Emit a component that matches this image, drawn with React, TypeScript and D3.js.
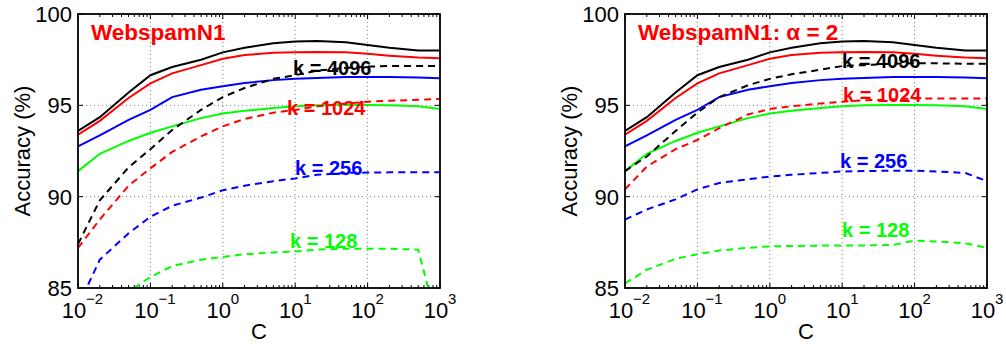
import React from "react";
import * as d3 from "d3";

const cValues = [0.01, 0.02, 0.05, 0.1, 0.2, 0.5, 1, 2, 5, 10, 20, 50, 100, 200, 500, 1000];
const xTickExps = [-2, -1, 0, 1, 2, 3];
const yTicks = [85, 90, 95, 100];

// solid lines (same in both panels)
const solid4096 = [93.6, 94.35, 95.7, 96.65, 97.1, 97.5, 97.9, 98.15, 98.4, 98.5, 98.52, 98.45, 98.3, 98.15, 98.0, 98.0];
const solid1024 = [93.4, 94.15, 95.4, 96.2, 96.75, 97.2, 97.55, 97.75, 97.88, 97.9, 97.92, 97.9, 97.82, 97.72, 97.62, 97.58];
const solid256 = [92.75, 93.35, 94.2, 94.75, 95.45, 95.85, 96.05, 96.22, 96.38, 96.45, 96.5, 96.55, 96.55, 96.55, 96.52, 96.48];
const solid128 = [91.4, 92.35, 93.05, 93.5, 93.85, 94.3, 94.55, 94.7, 94.85, 94.95, 95.0, 95.02, 95.02, 95.0, 94.95, 94.8];

// dashed lines, left panel
const left4096 = [87.4, 89.8, 91.6, 92.6, 93.65, 94.75, 95.45, 95.95, 96.45, 96.65, 96.9, 97.05, 97.12, 97.15, 97.15, 97.15];
const left1024 = [87.2, 88.75, 90.6, 91.55, 92.45, 93.3, 93.85, 94.25, 94.6, 94.75, 94.95, 95.1, 95.2, 95.25, 95.3, 95.35];
const left256 = [84.0, 86.55, 88.0, 88.9, 89.5, 89.95, 90.35, 90.6, 90.85, 91.0, 91.2, 91.3, 91.32, 91.33, 91.33, 91.33];
const left128 = [82.5, 83.6, 84.8, 85.6, 86.2, 86.55, 86.7, 86.85, 86.95, 87.0, 87.1, 87.15, 87.15, 87.15, 87.1, 82.5];

// dashed lines, right panel (alpha = 2)
const right4096 = [91.4, 92.2, 93.6, 94.6, 95.45, 96.1, 96.45, 96.7, 96.95, 97.15, 97.2, 97.28, 97.3, 97.3, 97.28, 97.27];
const right1024 = [90.4, 91.65, 92.6, 93.1, 93.75, 94.5, 94.8, 94.95, 95.1, 95.2, 95.27, 95.33, 95.38, 95.38, 95.38, 95.37];
const right256 = [88.75, 89.3, 89.85, 90.4, 90.75, 90.95, 91.1, 91.2, 91.3, 91.38, 91.4, 91.42, 91.42, 91.38, 91.3, 90.85];
const right128 = [85.25, 86.0, 86.6, 86.85, 87.05, 87.2, 87.28, 87.3, 87.32, 87.33, 87.33, 87.35, 87.6, 87.55, 87.45, 87.2];

const kLabels = ["k = 4096", "k = 1024", "k = 256", "k = 128"];
const colors = ["#000000", "#ff0000", "#0000ff", "#00ff00"];

const panels = [
  {
    id: "p1",
    title: "WebspamN1",
    left: 78, right: 440, top: 14, bottom: 288,
    solid: [solid4096, solid1024, solid256, solid128],
    dashed: [left4096, left1024, left256, left128],
    labelPos: [[293, 75], [287, 115], [295, 175], [290, 248]],
  },
  {
    id: "p2",
    title: "WebspamN1: α = 2",
    left: 625, right: 987, top: 14, bottom: 288,
    solid: [solid4096, solid1024, solid256, solid128],
    dashed: [right4096, right1024, right256, right128],
    labelPos: [[842, 68], [843, 102], [840, 168], [842, 237]],
  },
];

const FONT = "'Liberation Sans', Arial, Helvetica, sans-serif";

function Panel({ p }: { p: any }) {
  const x = d3.scaleLog().domain([0.01, 1000]).range([p.left, p.right]);
  const y = d3.scaleLinear().domain([85, 100]).range([p.bottom, p.top]);
  const line = d3
    .line<number>()
    .x((_, i) => x(cValues[i]))
    .y((v) => y(v));
  const minor: number[] = [];
  for (let e = -2; e < 3; e++) for (let m = 2; m <= 9; m++) minor.push(m * Math.pow(10, e));
  const clipId = "clip-" + p.id;
  return (
    <g>
      <defs>
        <clipPath id={clipId}>
          <rect x={p.left} y={p.top} width={p.right - p.left} height={p.bottom - p.top} />
        </clipPath>
      </defs>
      {/* grid */}
      {xTickExps.slice(1, -1).map((e) => (
        <line key={"gx" + e} x1={x(Math.pow(10, e))} x2={x(Math.pow(10, e))} y1={p.top} y2={p.bottom}
          stroke="#808080" strokeWidth={1} strokeDasharray="1 3" />
      ))}
      {yTicks.slice(1, -1).map((t) => (
        <line key={"gy" + t} x1={p.left} x2={p.right} y1={y(t)} y2={y(t)}
          stroke="#808080" strokeWidth={1} strokeDasharray="1 3" />
      ))}
      {/* ticks */}
      {minor.map((m, i) => (
        <g key={"mn" + i}>
          <line x1={x(m)} x2={x(m)} y1={p.bottom} y2={p.bottom - 3} stroke="#000" strokeWidth={1} />
          <line x1={x(m)} x2={x(m)} y1={p.top} y2={p.top + 3} stroke="#000" strokeWidth={1} />
        </g>
      ))}
      {xTickExps.map((e) => (
        <g key={"mj" + e}>
          <line x1={x(Math.pow(10, e))} x2={x(Math.pow(10, e))} y1={p.bottom} y2={p.bottom - 5} stroke="#000" strokeWidth={1} />
          <line x1={x(Math.pow(10, e))} x2={x(Math.pow(10, e))} y1={p.top} y2={p.top + 5} stroke="#000" strokeWidth={1} />
        </g>
      ))}
      {yTicks.map((t) => (
        <g key={"yt" + t}>
          <line x1={p.left} x2={p.left + 5} y1={y(t)} y2={y(t)} stroke="#000" strokeWidth={1} />
          <line x1={p.right} x2={p.right - 5} y1={y(t)} y2={y(t)} stroke="#000" strokeWidth={1} />
        </g>
      ))}
      {/* lines */}
      <g clipPath={`url(#${clipId})`}>
        {p.solid.map((s: number[], i: number) => (
          <path key={"s" + i} d={line(s) || ""} fill="none" stroke={colors[i]} strokeWidth={2} />
        ))}
        {p.dashed.map((s: number[], i: number) => (
          <path key={"d" + i} d={line(s) || ""} fill="none" stroke={colors[i]} strokeWidth={2} strokeDasharray="7 5" />
        ))}
      </g>
      {/* k labels */}
      {kLabels.map((k, i) => (
        <text key={"k" + i} x={p.labelPos[i][0]} y={p.labelPos[i][1]} fill={colors[i]}
          fontFamily={FONT} fontWeight="bold" fontSize={20}>{k}</text>
      ))}
      {/* title */}
      <text x={p.left + 13} y={40} fill="#ff0000" fontFamily={FONT} fontWeight="bold" fontSize={22.5}>
        {p.title}
      </text>
      {/* frame */}
      <rect x={p.left} y={p.top} width={p.right - p.left} height={p.bottom - p.top} fill="none" stroke="#000" strokeWidth={1.8} />
      {/* y tick labels */}
      {yTicks.map((t) => (
        <text key={"yl" + t} x={p.left - 6} y={y(t) + 8} textAnchor="end" fontFamily={FONT} fontSize={22} fill="#000">
          {t}
        </text>
      ))}
      {/* x tick labels */}
      {xTickExps.map((e) => (
        <g key={"xl" + e}>
          <text x={x(Math.pow(10, e)) - 4} y={318} textAnchor="middle" fontFamily={FONT} fontSize={22} fill="#000">10</text>
          <text x={x(Math.pow(10, e)) + 8} y={304} textAnchor="start" fontFamily={FONT} fontSize={15} fill="#000">
            {e < 0 ? "\u2212" + Math.abs(e) : String(e)}
          </text>
        </g>
      ))}
      <text x={(p.left + p.right) / 2} y={339} textAnchor="middle" fontFamily={FONT} fontSize={22} fill="#000">C</text>
      <text transform={`translate(${p.left - 48},${(p.top + p.bottom) / 2}) rotate(-90)`} textAnchor="middle"
        fontFamily={FONT} fontSize={22} fill="#000">Accuracy (%)</text>
    </g>
  );
}

export default function App() {
  return (
    <svg width={1006} height={344} style={{ position: "absolute", left: 0, top: 0, background: "#fff" }}>
      <rect x={0} y={0} width={1006} height={344} fill="#fff" />
      {panels.map((p) => (
        <Panel key={p.id} p={p} />
      ))}
    </svg>
  );
}
